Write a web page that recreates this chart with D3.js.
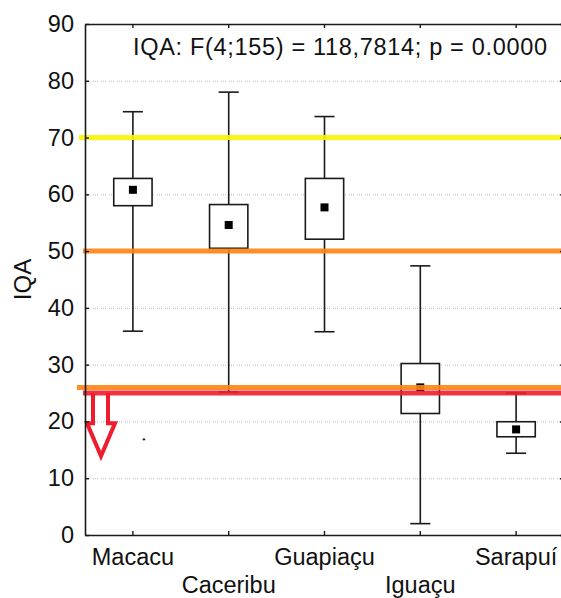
<!DOCTYPE html>
<html>
<head>
<meta charset="utf-8">
<script src="https://cdn.jsdelivr.net/npm/d3@7"></script>
<style>
  html, body { margin: 0; padding: 0; background: #fff; }
  svg text { font-family: "Liberation Sans", Arial, sans-serif; fill: #111; }
</style>
</head>
<body>
<svg id="chart" width="561" height="598"></svg>
<script>
// Rivers sampled and the IQA summary for each one
const rivers     = ["Macacu", "Caceribu", "Guapiaçu", "Iguaçu", "Sarapuí"];
const whiskerLow = [35.9, 25.2, 35.8, 2.0, 14.4];
const boxLow     = [58.0, 50.5, 52.1, 21.4, 17.3];
const means      = [60.8, 54.6, 57.7, 26.0, 18.6];
const boxHigh    = [62.8, 58.2, 62.8, 30.2, 19.95];
const whiskerHigh= [74.55, 78.0, 73.7, 47.4, 25.0];

// Quality class limits drawn across the plot
const limitValues = [70, 50, 26, 25];
const limitColors = ["#fbf500", "#ff8214", "#ff8214", "#ee1c2c"];

const yTicks = [0, 10, 20, 30, 40, 50, 60, 70, 80, 90];
const gridTicks = [10, 20, 30, 40, 50, 60, 70, 80];
const title = "IQA: F(4;155) = 118,7814; p = 0.0000";
const yLabel = "IQA";

// Stray point next to Macacu
const strayPoints = [{ river: "Macacu", value: 16.85 }];

const svg = d3.select("#chart");
const plotL = 85, plotR = 564, plotT = 24, plotB = 535;

const x = d3.scaleBand().domain(rivers).range([plotL, plotR]);
const y = d3.scaleLinear().domain([0, 90]).range([plotB, plotT]);

const rows = rivers.map((r, i) => ({
  river: r, lo: whiskerLow[i], q1: boxLow[i], mean: means[i], q3: boxHigh[i], hi: whiskerHigh[i]
}));

// dotted gridlines with alternating pink/green dots
const grid = svg.append("g");
grid.selectAll("line.gp").data(gridTicks).join("line")
  .attr("x1", plotL).attr("x2", plotR)
  .attr("y1", d => y(d) + 0.5).attr("y2", d => y(d) + 0.5)
  .attr("stroke", "#d9a6d9").attr("stroke-width", 1).attr("stroke-dasharray", "1,3");
grid.selectAll("line.gg").data(gridTicks).join("line")
  .attr("x1", plotL + 2).attr("x2", plotR)
  .attr("y1", d => y(d) + 0.5).attr("y2", d => y(d) + 0.5)
  .attr("stroke", "#9fc79f").attr("stroke-width", 1).attr("stroke-dasharray", "1,7");

// boxes and whiskers
const bw = x.bandwidth();
const boxW = bw * 0.4, capW = bw * 0.21;
const g = svg.append("g").attr("stroke", "#1a1a1a").attr("stroke-width", 1.6);
const item = g.selectAll("g.box").data(rows).join("g");
item.append("line")
  .attr("x1", d => x(d.river) + bw / 2).attr("x2", d => x(d.river) + bw / 2)
  .attr("y1", d => y(d.hi)).attr("y2", d => y(d.lo));
item.append("line")
  .attr("x1", d => x(d.river) + bw / 2 - capW / 2).attr("x2", d => x(d.river) + bw / 2 + capW / 2)
  .attr("y1", d => y(d.hi)).attr("y2", d => y(d.hi));
item.append("line")
  .attr("x1", d => x(d.river) + bw / 2 - capW / 2).attr("x2", d => x(d.river) + bw / 2 + capW / 2)
  .attr("y1", d => y(d.lo)).attr("y2", d => y(d.lo));
item.append("rect")
  .attr("x", d => x(d.river) + bw / 2 - boxW / 2).attr("width", boxW)
  .attr("y", d => y(d.q3)).attr("height", d => y(d.q1) - y(d.q3))
  .attr("fill", "#fff");
item.append("rect")
  .attr("x", d => x(d.river) + bw / 2 - 4).attr("width", 8)
  .attr("y", d => y(d.mean) - 4).attr("height", 8)
  .attr("fill", "#000").attr("stroke", "none");

svg.selectAll("circle.stray").data(strayPoints).join("circle")
  .attr("cx", d => x(d.river) + bw * 0.615).attr("cy", d => y(d.value))
  .attr("r", 1.2).attr("fill", "#222");

// class limit lines
const limitStart = [79, 83, 77, 83];
svg.append("g").selectAll("line").data(limitValues).join("line")
  .attr("x1", (d, i) => limitStart[i]).attr("x2", plotR)
  .attr("y1", d => y(d)).attr("y2", d => y(d))
  .attr("stroke", (d, i) => limitColors[i]).attr("stroke-width", 5)
  .attr("stroke-opacity", 0.9);

// hollow arrow pointing below the lowest limit
const arrowTop = 25, arrowNeck = 19.7, arrowTip = 13.9;
const ax = x.range()[0];
const arrow = d3.path();
arrow.moveTo(ax + 8, y(arrowTop));
arrow.lineTo(ax + 8, y(arrowNeck));
arrow.lineTo(ax + 2, y(arrowNeck));
arrow.lineTo(ax + 16, y(arrowTip));
arrow.lineTo(ax + 30, y(arrowNeck));
arrow.lineTo(ax + 23, y(arrowNeck));
arrow.lineTo(ax + 23, y(arrowTop));
svg.append("path").attr("d", arrow.toString())
  .attr("fill", "none").attr("stroke", "#ee1c2c").attr("stroke-width", 4)
  .attr("stroke-linejoin", "miter");

// frame and axes with inward ticks
const axisStyle = sel => {
  sel.select(".domain").attr("stroke", "#1a1a1a").attr("stroke-width", 1.6);
  sel.selectAll(".tick line").attr("stroke", "#1a1a1a").attr("stroke-width", 1.4);
};
svg.append("g").attr("transform", `translate(${plotL},0)`)
  .call(d3.axisLeft(y).tickValues(yTicks).tickSizeInner(-4).tickSizeOuter(0).tickPadding(11))
  .call(axisStyle)
  .call(s => s.selectAll("text").style("font-size", "23.5px").attr("fill", "#111"));
svg.append("g").attr("transform", `translate(${plotR},0)`)
  .call(d3.axisRight(y).tickValues(yTicks).tickSizeInner(-4).tickSizeOuter(0).tickFormat(""))
  .call(axisStyle);
const xb = svg.append("g").attr("transform", `translate(0,${plotB})`)
  .call(d3.axisBottom(x).tickSizeInner(-4).tickSizeOuter(0).tickPadding(0))
  .call(axisStyle);
xb.selectAll("text")
  .style("font-size", "23.5px").attr("fill", "#111")
  .attr("dy", null)
  .attr("y", (d, i) => i % 2 === 0 ? 30 : 58);
svg.append("g").attr("transform", `translate(0,${plotT})`)
  .call(d3.axisTop(x).tickSizeInner(-4).tickSizeOuter(0).tickFormat(""))
  .call(axisStyle);

// titles
svg.append("text").attr("x", 133).attr("y", 55)
  .attr("textLength", 414).attr("lengthAdjust", "spacing")
  .style("font-size", "23.5px").text(title);
svg.append("text")
  .attr("transform", `translate(31,${(y(50) + y(40)) / 2}) rotate(-90)`)
  .attr("text-anchor", "middle")
  .style("font-size", "24px").text(yLabel);
</script>
</body>
</html>
